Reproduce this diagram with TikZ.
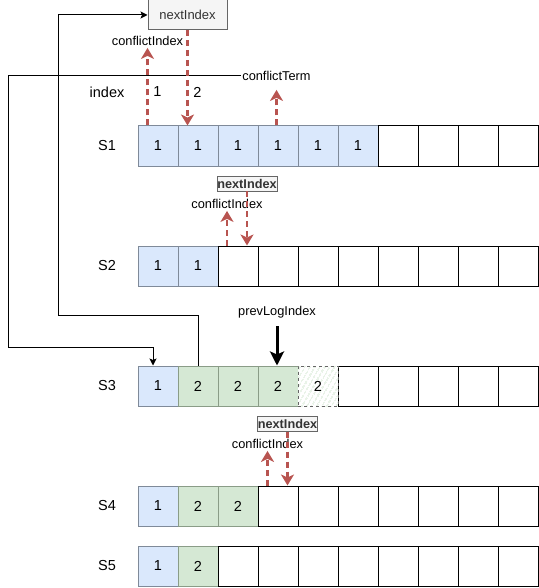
\documentclass[tikz,border=0pt]{standalone}
\usepackage{fontspec}
\setmainfont{Liberation Sans}
\usetikzlibrary{arrows.meta,patterns.meta}
\definecolor{bfill}{HTML}{DAE8FC}
\definecolor{bdraw}{HTML}{7F8A99}
\definecolor{gfill}{HTML}{D5E8D4}
\definecolor{gdraw}{HTML}{8A9C87}
\definecolor{hatchc}{HTML}{C2DDBF}
\definecolor{redc}{HTML}{B85450}
\definecolor{boxfill}{HTML}{F5F5F5}
\definecolor{boxdraw}{HTML}{666666}
\definecolor{boxtext}{HTML}{333333}
\tikzset{
  cellbase/.style={minimum width=40pt,minimum height=40pt,inner sep=0pt,line width=1pt,font=\fontsize{14.5}{16}\selectfont},
  wcell/.style={cellbase,draw=black,fill=white},
  bcell/.style={cellbase,draw=bdraw,fill=bfill},
  gcell/.style={cellbase,draw=gdraw,fill=gfill},
  hcell/.style={cellbase,draw=boxdraw,dashed,preaction={fill=white},pattern={Lines[angle=60,distance=4pt,line width=0.9pt]},pattern color=hatchc},
  rowlabel/.style={font=\fontsize{14.5}{16}\selectfont,inner sep=1pt},
  note/.style={font=\fontsize{12.8}{14}\selectfont,inner sep=1pt},
  nibox/.style={draw=boxdraw,fill=boxfill,text=boxtext,font=\bfseries\fontsize{12.7}{14}\selectfont,inner sep=0.5pt,minimum width=60pt,minimum height=15pt},
  conn/.style={draw=black,line width=1pt},
  connarr/.style={conn,-{Stealth[length=7pt,width=7pt,inset=1.5pt]}},
  redarr/.style={draw=redc,line width=2.2pt,dash pattern=on 6pt off 4pt,-{Stealth[length=11pt,width=13pt,inset=3pt]}},
  blackarr/.style={draw=black,line width=3pt,-{Stealth[length=14pt,width=14pt,inset=3pt]}}
}
\begin{document}
\begin{tikzpicture}[x=1pt,y=-1pt]
\useasboundingbox (0,0) rectangle (538,588);

% row labels
\node[rowlabel] (l1) at (107,146) {S1};
\node[rowlabel] (l2) at (107,266) {S2};
\node[rowlabel] (l3) at (107,386) {S3};
\node[rowlabel] (l4) at (107,506) {S4};
\node[rowlabel] (l5) at (107,566) {S5};

% S1
\foreach \i in {1,...,6} \node[bcell] (s1c\i) at ({118+40*\i},146) {1};
\foreach \i in {7,...,10} \node[wcell] (s1c\i) at ({118+40*\i},146) {};
% S2
\foreach \i in {1,2} \node[bcell] (s2c\i) at ({118+40*\i},266) {1};
\foreach \i in {3,...,10} \node[wcell] (s2c\i) at ({118+40*\i},266) {};
% S3
\node[bcell] (s3c1) at (158,386) {1};
\foreach \i in {2,3,4} \node[gcell] (s3c\i) at ({118+40*\i},386) {2};
\foreach \i in {6,...,10} \node[wcell] (s3c\i) at ({118+40*\i},386) {};
\node[hcell] (s3c5) at (318,386) {2};
% S4
\node[bcell] (s4c1) at (158,506) {1};
\foreach \i in {2,3} \node[gcell] (s4c\i) at ({118+40*\i},506) {2};
\foreach \i in {4,...,10} \node[wcell] (s4c\i) at ({118+40*\i},506) {};
% S5
\node[bcell] (s5c1) at (158,566) {1};
\node[gcell] (s5c2) at (198,566) {2};
\foreach \i in {3,...,10} \node[wcell] (s5c\i) at ({118+40*\i},566) {};

% top annotations
\node[draw=boxdraw,fill=boxfill,text=boxtext,font=\fontsize{13}{15}\selectfont,minimum width=79pt,minimum height=30pt,inner sep=0pt,line width=1pt] (ni0) at (187.5,15) {nextIndex};
\node[note] (ci1) at (147.5,41) {conflictIndex};
\node[note] (ct) at (276.5,76) {conflictTerm};
\node[rowlabel] (idx) at (107,92) {index};
\node[rowlabel] (n1) at (157.5,92) {1};
\node[rowlabel] (n2) at (197.5,92) {2};

% S2 annotations
\node[nibox] (ni2) at (247,183.5) {nextIndex};
\node[note] (ci2) at (227,204) {conflictIndex};
% S3 annotation
\node[note] (pl) at (277,312) {prevLogIndex};
% S4 annotations
\node[nibox] (ni4) at (287.5,424) {nextIndex};
\node[note] (ci4) at (267.5,444) {conflictIndex};

% connectors
\coordinate (k1) at (58,315);
\coordinate (k3) at (8,347);
\draw[connarr] (s3c2.north) |- (k1) |- (ni0.west);
\draw[connarr] (ct.west) -| (k3) -| ([xshift=-5pt]s3c1.north);

% red arrows
\draw[redarr] (ci1.south |- s1c1.north) -- ([yshift=-1pt]ci1.south);
\draw[redarr] (ni0.south) -- (ni0.south |- s1c2.north);
\draw[redarr] (ct.south |- s1c4.north) -- ([yshift=-8pt]ct.south);
\draw[redarr] (ci2.south |- s2c3.north) -- ([yshift=-1pt]ci2.south);
\draw[redarr] (ni2.south) -- (ni2.south |- s2c3.north);
\draw[redarr] (ci4.south |- s4c4.north) -- ([yshift=-1pt]ci4.south);
\draw[redarr] (ni4.south) -- (ni4.south |- s4c4.north);

% black arrow
\draw[blackarr,shorten <=7pt] (pl.south) -- (pl.south |- s3c4.north);
\end{tikzpicture}
\end{document}
